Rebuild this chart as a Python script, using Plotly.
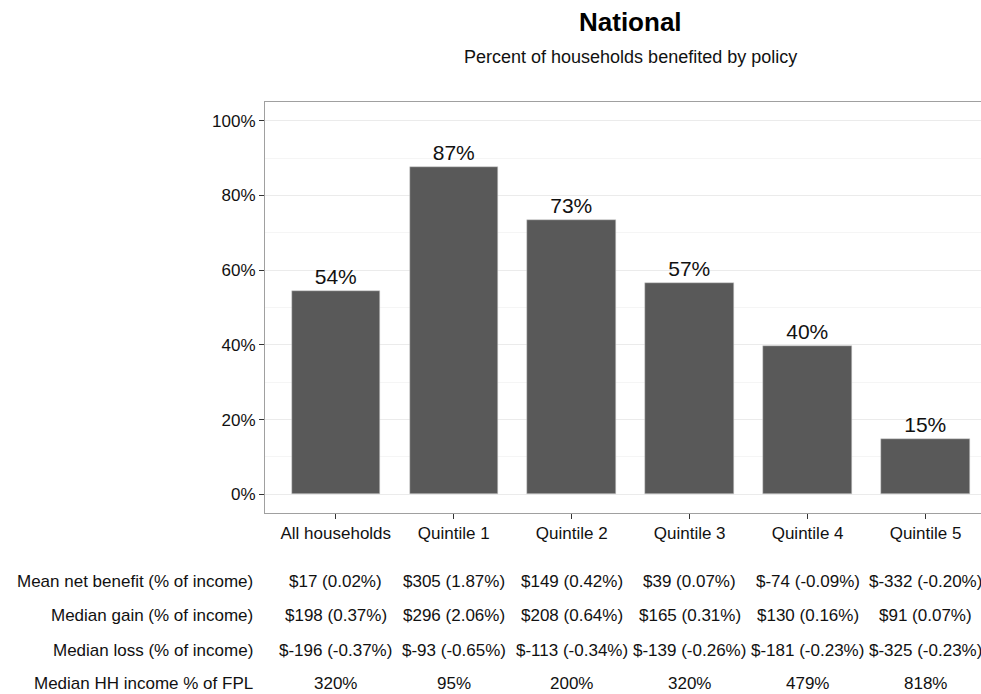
import plotly.graph_objects as go

categories = ["All households", "Quintile 1", "Quintile 2", "Quintile 3", "Quintile 4", "Quintile 5"]
pct_benefited = [0.544, 0.875, 0.733, 0.565, 0.397, 0.149]
pct_labels = ["54%", "87%", "73%", "57%", "40%", "15%"]

mean_net_usd = [17, 305, 149, 39, -74, -332]
mean_net_pct = [0.02, 1.87, 0.42, 0.07, -0.09, -0.20]
median_gain_usd = [198, 296, 208, 165, 130, 91]
median_gain_pct = [0.37, 2.06, 0.64, 0.31, 0.16, 0.07]
median_loss_usd = [-196, -93, -113, -139, -181, -325]
median_loss_pct = [-0.37, -0.65, -0.34, -0.26, -0.23, -0.23]
median_fpl = [320, 95, 200, 320, 479, 818]

row_labels = ["Mean net benefit (% of income)", "Median gain (% of income)",
              "Median loss (% of income)", "Median HH income % of FPL"]
y_ticks = [0, 0.2, 0.4, 0.6, 0.8, 1.0]
y_tick_text = ["0%", "20%", "40%", "60%", "80%", "100%"]

FONT = "Liberation Sans, Arial, sans-serif"
W, H = 981, 694
L, T, B = 265, 102, 181
plot_h = H - T - B


def money(u, p):
    return f"${u} ({p:.2f}%)"


rows = [
    [money(u, p) for u, p in zip(mean_net_usd, mean_net_pct)],
    [money(u, p) for u, p in zip(median_gain_usd, median_gain_pct)],
    [money(u, p) for u, p in zip(median_loss_usd, median_loss_pct)],
    [f"{v}%" for v in median_fpl],
]
row_px = [581, 615, 650, 683]

fig = go.Figure()
fig.add_trace(go.Bar(
    x=list(range(len(categories))), y=pct_benefited,
    width=0.75,
    marker=dict(color="#595959", line=dict(color="#d0d0d0", width=0.5)),
    text=pct_labels, textposition="outside",
    textfont=dict(family=FONT, size=21, color="#111"),
    cliponaxis=False, hoverinfo="skip",
))

annotations = []
for lab, vals, py in zip(row_labels, rows, row_px):
    yp = (H - B - py) / plot_h
    annotations.append(dict(xref="paper", yref="paper", x=0, y=yp, xshift=-10,
                            xanchor="right", yanchor="middle", text=lab, showarrow=False,
                            font=dict(family=FONT, size=17, color="#111")))
    for i, v in enumerate(vals):
        annotations.append(dict(xref="x", yref="paper", x=i, y=yp,
                                xanchor="center", yanchor="middle", text=v, showarrow=False,
                                font=dict(family=FONT, size=17, color="#111")))

annotations.append(dict(xref="x", yref="paper", x=2.5, y=(H - B - 22) / plot_h,
                        xanchor="center", yanchor="middle", text="<b>National</b>",
                        showarrow=False, font=dict(family=FONT, size=26, color="#000")))
annotations.append(dict(xref="x", yref="paper", x=2.5, y=(H - B - 57) / plot_h,
                        xanchor="center", yanchor="middle",
                        text="Percent of households benefited by policy",
                        showarrow=False, font=dict(family=FONT, size=18, color="#111")))

fig.update_layout(
    width=W, height=H,
    margin=dict(l=L, r=0, t=T, b=B, pad=0),
    paper_bgcolor="white", plot_bgcolor="white",
    showlegend=False,
    annotations=annotations,
    bargap=0,
)
fig.update_xaxes(
    range=[-0.6, 5.47],
    tickvals=list(range(len(categories))), ticktext=categories,
    ticks="outside", ticklen=5, tickcolor="#333", tickwidth=1.2,
    tickfont=dict(family=FONT, size=17, color="#111"),
    showgrid=False, zeroline=False,
    showline=True, linecolor="#a0a0a0", linewidth=1, mirror=True,
)
fig.update_yaxes(
    range=[-0.05, 1.05],
    tickvals=y_ticks, ticktext=y_tick_text,
    ticks="outside", ticklen=5, tickcolor="#333", tickwidth=1.2,
    tickfont=dict(family=FONT, size=17, color="#111"),
    showgrid=True, gridcolor="#ebebeb", gridwidth=1,
    minor=dict(dtick=0.1, tick0=0.1, showgrid=True, gridcolor="#f5f5f5", gridwidth=0.6, ticks=""),
    zeroline=False,
    showline=True, linecolor="#a0a0a0", linewidth=1, mirror=True,
)

fig.write_html(
    "out.html",
    config={"displayModeBar": False},
    post_script="document.body.style.margin='0';document.body.style.overflow='hidden';",
)
